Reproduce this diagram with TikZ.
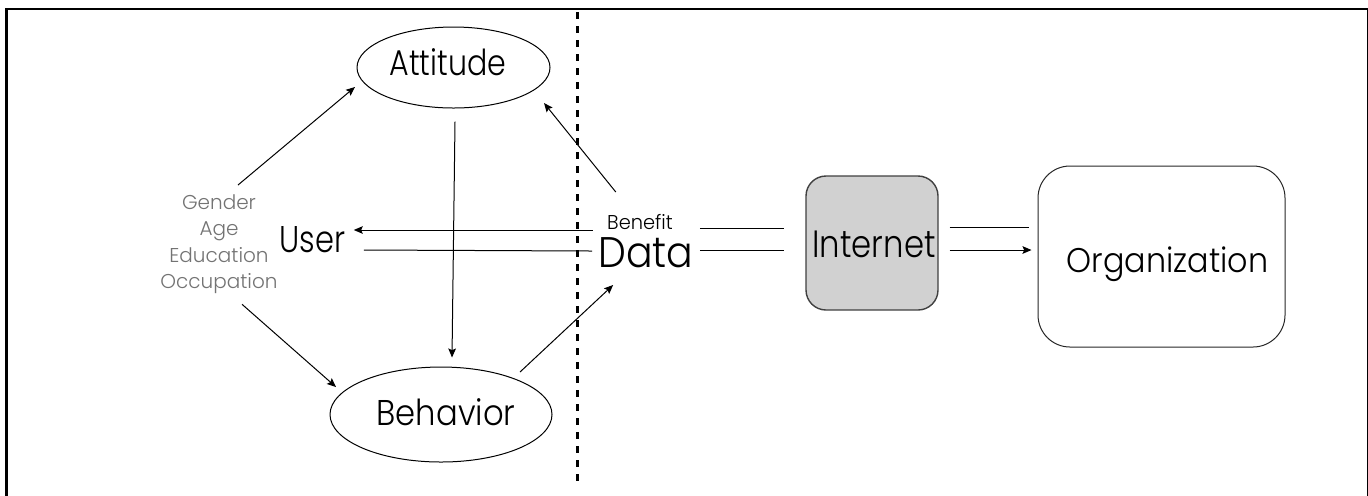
\documentclass[tikz,border=0pt]{standalone}
\usepackage{fontspec}
\IfFontExistsTF{Poppins Light}{\setmainfont{Poppins Light}}{\setmainfont{Poppins}}
\usetikzlibrary{calc,arrows.meta,shapes.geometric}
\newcommand{\fsz}[2]{\fontsize{#1}{#1}\selectfont\addfontfeature{FakeStretch=#2}}
\begin{document}
\begin{tikzpicture}[x=0.5pt,y=-0.5pt,
  lbl/.style={inner sep=0pt, anchor=base},
  conn/.style={line width=0.5pt},
  arr/.style={conn,-{Stealth[length=4.5pt,width=3.8pt,inset=0.8pt]}},
  ell/.style={draw, ellipse, line width=0.5pt, inner sep=0pt},
  rbox/.style={draw, rectangle, inner sep=0pt},
  small/.style={font=\fontsize{10}{13.25}\selectfont},
  divider/.style={line width=1.5pt, dash pattern=on 3.5pt off 3.5pt},
  ]
\useasboundingbox (0,0) rectangle (1368,495);
\clip (0,0) rectangle (1368,495);
% frame
\draw[line width=1.25pt] (6.5,600) -- (6.5,9) -- (1368,9) -- (1368,600);
% divider
\coordinate (dtop) at (577,12);
\coordinate (dbot) at (577,482);
\draw[divider] (dtop) -- (dbot);
% shapes
\node[ell, minimum width=96.5pt, minimum height=40.5pt] (att) at (453.5,67.5) {};
\node[ell, minimum width=111pt, minimum height=47.5pt] (beh) at (441,414.5) {};
\node[rbox, fill=black!18, draw=black!75, line width=0.7pt, rounded corners=10pt,
      minimum width=66pt, minimum height=67pt] (inet) at (872,243) {};
\node[rbox, draw=black!85, line width=0.5pt, rounded corners=16pt,
      minimum width=123.5pt, minimum height=90.5pt] (org) at (1161.5,256.5) {};
% labels
\node[lbl, font=\fsz{17.9}{0.84}] (attT) at (448,75) {Attitude};
\node[lbl, font=\fsz{17.9}{0.90}] (behT) at (446,425) {Behavior};
\node[lbl, font=\fsz{19}{0.85}] (inetT) at (874,257) {Internet};
\node[lbl, font=\fsz{17.1}{0.93}] (orgT) at (1167.5,272) {Organization};
\node[lbl, font=\fsz{18.6}{0.82}] (user) at (312.5,252) {User};
\node[lbl, font=\fsz{21.4}{0.92}] (data) at (646,267) {Data};
\node[lbl, font=\fsz{10}{0.97}] (benefit) at (640,229) {Benefit};
\node[inner sep=0pt, anchor=north, small, align=center, text=black!55] (demo) at (219,194)
  {Gender\\Age\\Education\\Occupation};
% connectors
\draw[arr] ($(demo.north)+(19,-9)$) -- ($(att.center)+(-98.5,19.5)$);
\draw[arr] ($(demo.south)+(23,10)$) -- ($(beh.center)+(-105,-27.5)$);
\draw[arr] ($(att.south)+(1.5,13)$) -- ($(beh.north)+(11,-9)$);
\draw[arr] ($(beh.center)+(79,-42.5)$) -- ($(data.base west)+(15,18)$);
\draw[arr] ($(benefit.base west)+(9,-37)$) -- ($(att.center)+(90.5,35.5)$);
\draw[arr] ($(benefit.base west)+(-14,1)$) -- ($(user.base east)+(8,-22)$);
\draw[conn] ($(user.base east)+(18,-2)$) -- ($(data.base west)+(-6,-16)$);
\draw[conn] ($(data.base east)+(6,-39)$) -- ($(inet.west)+(-21,-15)$);
\draw[conn] ($(data.base east)+(6,-17)$) -- ($(inet.west)+(-21,7)$);
\draw[conn] ($(inet.east)+(11,-16)$) -- ($(org.west)+(-9,-29.5)$);
\draw[arr] ($(inet.east)+(11,7)$) -- ($(org.west)+(-6,-6.5)$);
\end{tikzpicture}
\end{document}
